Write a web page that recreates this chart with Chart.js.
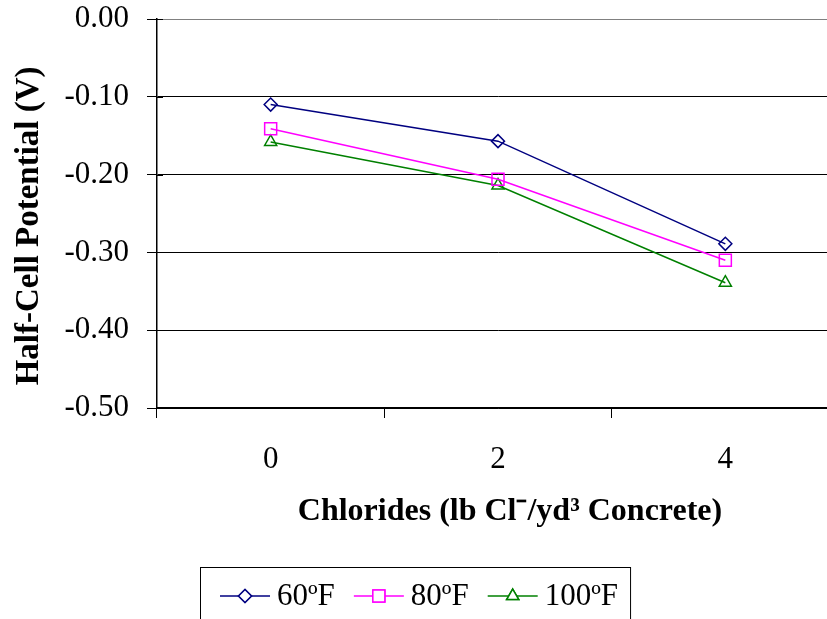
<!DOCTYPE html>
<html>
<head>
<meta charset="utf-8">
<script src="https://cdn.jsdelivr.net/npm/chart.js@4.4.0/dist/chart.umd.min.js"></script>
<style>
  html, body { margin: 0; padding: 0; background: #fff; overflow: hidden; }
  #wrap { width: 827px; height: 619px; overflow: hidden; }
  canvas { display: block; }
</style>
</head>
<body>
<div id="wrap"><canvas id="halfCell" width="849" height="619"></canvas></div>
<script>
// chloride content (lb Cl-/yd3)
const chlorides = ['0', '2', '4'];

// half-cell potential (V) per curing temperature
const temp60 = [-0.110, -0.157, -0.289];
const temp80 = [-0.141, -0.206, -0.310];
const temp100 = [-0.158, -0.214, -0.339];

const seriesLabels = ['60ºF', '80ºF', '100ºF'];

const yTicks = [0, -0.1, -0.2, -0.3, -0.4, -0.5];

const FONT = 'Liberation Serif, Times New Roman, serif';

// small ticks on the inner side of the value axis
const innerTicks = {
    id: 'innerTicks',
    afterDraw(chart) {
        const { ctx } = chart;
        const y = chart.scales.y;
        ctx.save();
        ctx.strokeStyle = '#000';
        ctx.lineWidth = 1;
        yTicks.forEach(v => {
            const py = Math.round(y.getPixelForValue(v)) + 0.5;
            ctx.beginPath();
            ctx.moveTo(y.right, py);
            ctx.lineTo(y.right + 6, py);
            ctx.stroke();
        });
        ctx.restore();
    }
};

// boxed legend with line + marker samples
const boxLegend = {
    id: 'boxLegend',
    afterDraw(chart) {
        const { ctx } = chart;
        const cy = 596;
        let x = 220;
        ctx.save();
        ctx.font = '31px ' + FONT;
        ctx.textBaseline = 'middle';
        ctx.fillStyle = '#000';
        chart.data.datasets.forEach(ds => {
            ctx.strokeStyle = ds.borderColor;
            ctx.lineWidth = 1.5;
            ctx.beginPath();
            ctx.moveTo(x, cy);
            ctx.lineTo(x + 50, cy);
            ctx.stroke();
            Chart.helpers.drawPoint(ctx, {
                pointStyle: ds.pointStyle,
                radius: ds.pointRadius,
                rotation: 0,
                borderWidth: 1.5
            }, x + 25, cy);
            ctx.fillStyle = '#fff';
            ctx.fill();
            ctx.stroke();
            ctx.fillStyle = '#000';
            ctx.fillText(ds.label, x + 57, cy + 1);
            x += 57 + ctx.measureText(ds.label).width + 19;
        });
        ctx.strokeStyle = '#000';
        ctx.lineWidth = 1;
        ctx.strokeRect(200.5, 567.5, (x - 19 + 12) - 200, 80);
        ctx.restore();
    }
};

new Chart(document.getElementById('halfCell'), {
    type: 'line',
    data: {
        labels: chlorides,
        datasets: [
            {
                label: seriesLabels[0],
                data: temp60,
                borderColor: '#000080',
                pointStyle: 'rectRot',
                pointRadius: 6.5
            },
            {
                label: seriesLabels[1],
                data: temp80,
                borderColor: '#FF00FF',
                pointStyle: 'rect',
                pointRadius: 8.5
            },
            {
                label: seriesLabels[2],
                data: temp100,
                borderColor: '#008000',
                pointStyle: 'triangle',
                pointRadius: 7
            }
        ].map(ds => ({
            ...ds,
            borderWidth: 1.5,
            pointBorderColor: ds.borderColor,
            pointBackgroundColor: 'rgba(0,0,0,0)',
            pointBorderWidth: 1.5,
            fill: false,
            tension: 0
        }))
    },
    options: {
        responsive: false,
        animation: false,
        devicePixelRatio: 1,
        layout: { padding: { left: 0, top: 0, right: 2, bottom: 88 } },
        plugins: {
            legend: { display: false },
            tooltip: { enabled: false }
        },
        scales: {
            x: {
                type: 'category',
                offset: true,
                afterFit(scale) { scale.height = 123; },
                grid: {
                    offset: true,
                    drawOnChartArea: false,
                    color: '#000',
                    tickLength: 10
                },
                border: { color: '#000', width: 1.5 },
                ticks: {
                    color: '#000',
                    font: { family: FONT, size: 31 },
                    padding: 23,
                    maxRotation: 0
                },
                title: {
                    display: true,
                    text: '   Chlorides (lb Cl⁻/yd³ Concrete)',
                    color: '#000',
                    font: { family: FONT, size: 32, weight: 'bold' },
                    padding: { top: 0, bottom: 0 }
                }
            },
            y: {
                min: -0.5,
                max: 0,
                afterFit(scale) {
                    scale.width = 157;
                    scale.paddingTop = 19;
                    scale.paddingBottom = 0;
                },
                afterBuildTicks(scale) {
                    scale.ticks = yTicks.map(v => ({ value: v }));
                },
                grid: {
                    color: ctx => (ctx.tick && ctx.tick.value === 0) ? '#808080' : '#000',
                    lineWidth: 1,
                    tickColor: '#000',
                    tickLength: 10
                },
                border: { color: '#000', width: 1.5 },
                ticks: {
                    color: '#000',
                    font: { family: FONT, size: 31 },
                    padding: 18,
                    callback: v => Number(v).toFixed(2)
                },
                title: {
                    display: true,
                    text: 'Half-Cell Potential (V)   ',
                    color: '#000',
                    font: { family: FONT, size: 33, weight: 'bold' },
                    padding: { top: 10, bottom: 0 }
                }
            }
        }
    },
    plugins: [innerTicks, boxLegend]
});
</script>
</body>
</html>
